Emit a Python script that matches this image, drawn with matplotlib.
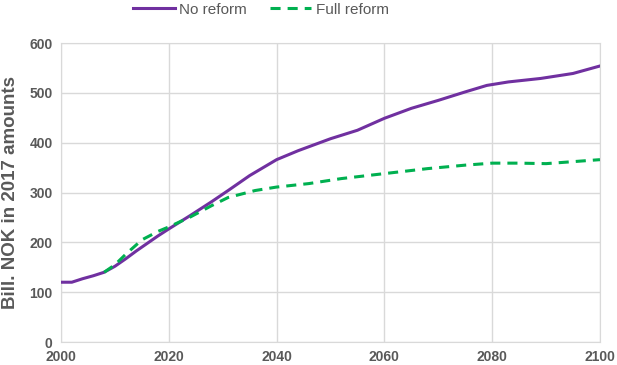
import matplotlib.pyplot as plt

plt.rcParams['font.family'] = ['Liberation Sans', 'DejaVu Sans']

years_no = [2000, 2002, 2004, 2006, 2008, 2010, 2012, 2014, 2016, 2018, 2020, 2024,
            2028, 2031, 2035, 2040, 2044, 2050, 2055, 2060, 2065, 2070, 2075,
            2079, 2083, 2089, 2095, 2100]
no_reform = [120, 120, 127, 133, 140, 152, 167, 183, 198, 213, 227, 254,
             282, 304, 334, 366, 384, 408, 425, 449, 469, 485, 502,
             515, 522, 529, 539, 554]

years_full = [2008, 2010, 2012, 2015, 2018, 2020, 2024, 2028, 2031, 2036, 2040,
              2046, 2052, 2060, 2068, 2075, 2080, 2085, 2090, 2095, 2100]
full_reform = [140, 155, 176, 205, 222, 231, 251, 274, 290, 304, 311,
               318, 328, 338, 348, 355, 359, 359, 358, 362, 366]

purple = '#7030A0'
green = '#00B050'
grey = '#595959'
gridc = '#D9D9D9'

fig = plt.figure(figsize=(6.17, 3.65), dpi=100)
ax = fig.add_axes([0.0989, 0.063, 0.8735, 0.819])

ax.plot(years_no, no_reform, color=purple, lw=2.2, label='No reform', zorder=3)
ax.plot(years_full, full_reform, color=green, lw=2.2, ls=(0, (3.3, 2.3)),
        label='Full reform', zorder=3)

ax.set_xlim(2000, 2100)
ax.set_ylim(0, 600)
ax.set_xticks(range(2000, 2101, 20))
ax.set_yticks(range(0, 601, 100))
ax.grid(True, color=gridc, lw=1)
ax.set_axisbelow(True)
for s in ax.spines.values():
    s.set_color(gridc)
ax.tick_params(length=0, labelsize=10, labelcolor=grey, pad=6)
for lab in ax.get_xticklabels() + ax.get_yticklabels():
    lab.set_fontweight('bold')

ax.set_ylabel('Bill. NOK in 2017 amounts', fontsize=13.5, fontweight='bold',
              color=grey)
ax.yaxis.set_label_coords(-0.078, 0.5)

fig.legend(loc='upper center', bbox_to_anchor=(0.423, 1.03), ncol=2, frameon=False,
           fontsize=11, handlelength=2.7, handletextpad=0.3, columnspacing=1.5,
           labelcolor=grey)

fig.savefig('out.png', dpi=100)
